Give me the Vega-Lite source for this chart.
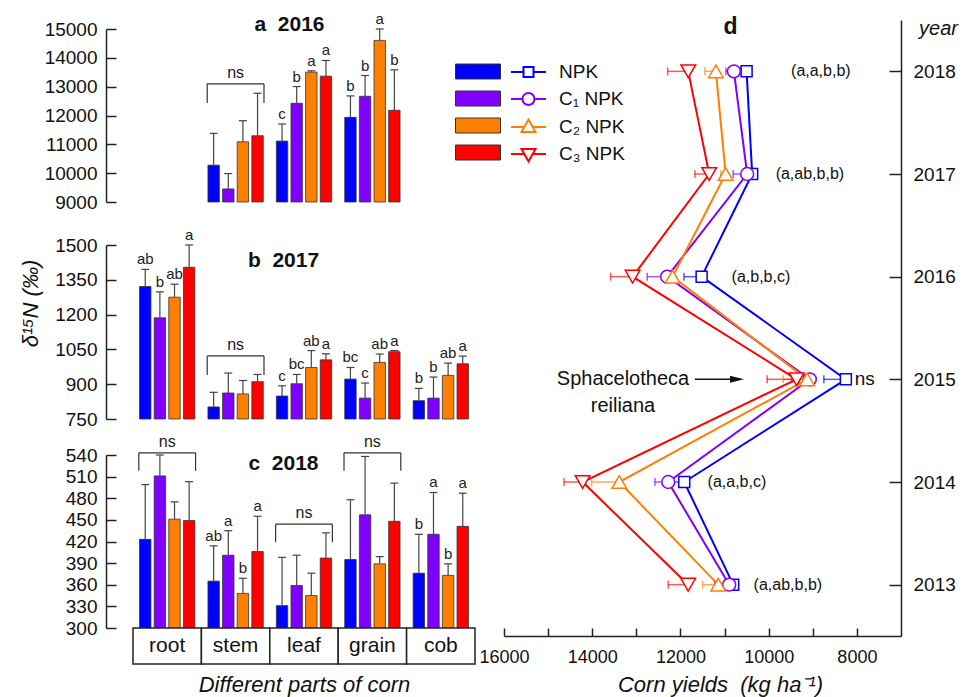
{
"$schema": "https://vega.github.io/schema/vega-lite/v6.json",
"background": "white",
"padding": {"left": 19, "top": 12, "right": 10, "bottom": 5},
"bounds": "flush",
"spacing": 371,
"resolve": {"scale": {"x": "independent", "y": "independent"}},
"datasets": {
"a": [
{"part":"stem","series":"NPK","v":10277,"hi":11379,"sig":""},
{"part":"stem","series":"C₁ NPK","v":9453,"hi":9986,"sig":""},
{"part":"stem","series":"C₂ NPK","v":11089,"hi":11820,"sig":""},
{"part":"stem","series":"C₃ NPK","v":11298,"hi":12771,"sig":""},
{"part":"leaf","series":"NPK","v":11112,"hi":11704,"sig":"c"},
{"part":"leaf","series":"C₁ NPK","v":12423,"hi":13004,"sig":"b"},
{"part":"leaf","series":"C₂ NPK","v":13503,"hi":13549,"sig":"a"},
{"part":"leaf","series":"C₃ NPK","v":13363,"hi":13909,"sig":"a"},
{"part":"grain","series":"NPK","v":11936,"hi":12679,"sig":"b"},
{"part":"grain","series":"C₁ NPK","v":12667,"hi":13387,"sig":"b"},
{"part":"grain","series":"C₂ NPK","v":14605,"hi":15000,"sig":"a"},
{"part":"grain","series":"C₃ NPK","v":12180,"hi":13584,"sig":"b"}
],
"b": [
{"part":"root","series":"NPK","v":1321,"hi":1395,"sig":"ab"},
{"part":"root","series":"C₁ NPK","v":1186,"hi":1298,"sig":"b"},
{"part":"root","series":"C₂ NPK","v":1275,"hi":1331,"sig":"ab"},
{"part":"root","series":"C₃ NPK","v":1404,"hi":1500,"sig":"a"},
{"part":"stem","series":"NPK","v":802,"hi":865,"sig":""},
{"part":"stem","series":"C₁ NPK","v":862,"hi":948,"sig":""},
{"part":"stem","series":"C₂ NPK","v":858,"hi":916,"sig":""},
{"part":"stem","series":"C₃ NPK","v":911,"hi":942,"sig":""},
{"part":"leaf","series":"NPK","v":849,"hi":893,"sig":"c"},
{"part":"leaf","series":"C₁ NPK","v":902,"hi":942,"sig":"bc"},
{"part":"leaf","series":"C₂ NPK","v":972,"hi":1045,"sig":"ab"},
{"part":"leaf","series":"C₃ NPK","v":1005,"hi":1031,"sig":"a"},
{"part":"grain","series":"NPK","v":922,"hi":972,"sig":"bc"},
{"part":"grain","series":"C₁ NPK","v":840,"hi":905,"sig":"c"},
{"part":"grain","series":"C₂ NPK","v":994,"hi":1030,"sig":"ab"},
{"part":"grain","series":"C₃ NPK","v":1040,"hi":1045,"sig":"a"},
{"part":"cob","series":"NPK","v":829,"hi":882,"sig":"b"},
{"part":"cob","series":"C₁ NPK","v":840,"hi":931,"sig":"b"},
{"part":"cob","series":"C₂ NPK","v":938,"hi":991,"sig":"ab"},
{"part":"cob","series":"C₃ NPK","v":988,"hi":1021,"sig":"a"}
],
"c": [
{"part":"root","series":"NPK","v":423,"hi":499,"sig":""},
{"part":"root","series":"C₁ NPK","v":511,"hi":540,"sig":""},
{"part":"root","series":"C₂ NPK","v":451,"hi":475,"sig":""},
{"part":"root","series":"C₃ NPK","v":449,"hi":503,"sig":""},
{"part":"stem","series":"NPK","v":365,"hi":414,"sig":"ab"},
{"part":"stem","series":"C₁ NPK","v":401,"hi":435,"sig":"a"},
{"part":"stem","series":"C₂ NPK","v":348,"hi":369,"sig":"b"},
{"part":"stem","series":"C₃ NPK","v":406,"hi":455,"sig":"a"},
{"part":"leaf","series":"NPK","v":331,"hi":398,"sig":""},
{"part":"leaf","series":"C₁ NPK","v":359,"hi":401,"sig":""},
{"part":"leaf","series":"C₂ NPK","v":345,"hi":376,"sig":""},
{"part":"leaf","series":"C₃ NPK","v":397,"hi":432,"sig":""},
{"part":"grain","series":"NPK","v":395,"hi":478,"sig":""},
{"part":"grain","series":"C₁ NPK","v":457,"hi":538,"sig":""},
{"part":"grain","series":"C₂ NPK","v":389,"hi":399,"sig":""},
{"part":"grain","series":"C₃ NPK","v":448,"hi":501,"sig":""},
{"part":"cob","series":"NPK","v":376,"hi":430,"sig":"b"},
{"part":"cob","series":"C₁ NPK","v":430,"hi":488,"sig":"a"},
{"part":"cob","series":"C₂ NPK","v":373,"hi":389,"sig":"b"},
{"part":"cob","series":"C₃ NPK","v":441,"hi":487,"sig":"a"}
],
"ba": [{"part":"stem","top":13100,"bot":12430}],
"bb": [{"part":"stem","top":1022,"bot":940}],
"bc": [{"part":"root","top":543,"bot":518},{"part":"leaf","top":444,"bot":419},{"part":"grain","top":543,"bot":518}],
"parts": [{"part":"root"},{"part":"stem"},{"part":"leaf"},{"part":"grain"},{"part":"cob"}],
"d": [
{"series":"NPK","year":2018,"yield":10500,"hi":10650},
{"series":"NPK","year":2017,"yield":10374,"hi":10430},
{"series":"NPK","year":2016,"yield":11520,"hi":11921},
{"series":"NPK","year":2015,"yield":8250,"hi":8749},
{"series":"NPK","year":2014,"yield":11914,"hi":12163},
{"series":"NPK","year":2013,"yield":10804,"hi":10870},
{"series":"C₁ NPK","year":2018,"yield":10788,"hi":10969},
{"series":"C₁ NPK","year":2017,"yield":10487,"hi":10804},
{"series":"C₁ NPK","year":2016,"yield":12300,"hi":12753},
{"series":"C₁ NPK","year":2015,"yield":9066,"hi":9480},
{"series":"C₁ NPK","year":2014,"yield":12277,"hi":12578},
{"series":"C₁ NPK","year":2013,"yield":10894,"hi":11219},
{"series":"C₂ NPK","year":2018,"yield":11196,"hi":11446},
{"series":"C₂ NPK","year":2017,"yield":10976,"hi":11083},
{"series":"C₂ NPK","year":2016,"yield":12178,"hi":12427},
{"series":"C₂ NPK","year":2015,"yield":9127,"hi":9671},
{"series":"C₂ NPK","year":2014,"yield":13387,"hi":14013},
{"series":"C₂ NPK","year":2013,"yield":11144,"hi":11497},
{"series":"C₃ NPK","year":2018,"yield":11823,"hi":12290},
{"series":"C₃ NPK","year":2017,"yield":11348,"hi":11672},
{"series":"C₃ NPK","year":2016,"yield":13084,"hi":13582},
{"series":"C₃ NPK","year":2015,"yield":9367,"hi":10034},
{"series":"C₃ NPK","year":2014,"yield":14217,"hi":14640},
{"series":"C₃ NPK","year":2013,"yield":11824,"hi":12277}
],
"dnotes": [
{"year":2018,"pos":8817,"label":"(a,a,b,b)"},
{"year":2017,"pos":9066,"label":"(a,ab,b,b)"},
{"year":2016,"pos":10176,"label":"(a,b,b,c)"},
{"year":2015,"pos":7820,"label":"ns"},
{"year":2014,"pos":10720,"label":"(a,a,b,c)"},
{"year":2013,"pos":9565,"label":"(a,ab,b,b)"}
],
"dsp": [{"year":2015,"pos":13303,"label":"Sphacelotheca\nreiliana"}],
"arrow": [{"year":2015,"from":11672,"to":10718}]
},
"hconcat": [
{
"bounds": "flush",
"spacing": 8,
"resolve": {"scale": {"x": "independent", "y": "independent"}},
"vconcat": [
{"width": 342, "height": 1, "data": {"values": []}, "mark": "point", "encoding": {}},
{
"bounds": "flush",
"spacing": 43,
"resolve": {"scale": {"x": "independent", "y": "independent"}},
"vconcat": [
{
"width": 342, "height": 173,
"layer": [
{"data": {"name": "a"}, "mark": {"type": "bar", "stroke": "#333", "strokeWidth": 0.8},
 "encoding": {
  "x": {"field": "part", "type": "nominal", "scale": {"domain": ["root","stem","leaf","grain","cob"], "paddingInner": 0.17, "paddingOuter": 0.085},
        "axis": {"orient": "top", "domain": false, "ticks": false, "labels": false, "grid": false, "title": "a\u00a0\u00a02016", "titleX": 156, "titleY": 1, "titleAlign": "center", "titleBaseline": "alphabetic", "titleAngle": 0, "titleFontSize": 21, "titleFontWeight": "bold"}},
  "xOffset": {"field": "series", "type": "nominal", "scale": {"domain": ["NPK","C₁ NPK","C₂ NPK","C₃ NPK"], "paddingInner": 0.22, "paddingOuter": 0.05}},
  "y": {"field": "v", "type": "quantitative", "scale": {"domain": [9000, 15000], "nice": false, "zero": false},
        "axis": {"values": [9000,10000,11000,12000,13000,14000,15000], "tickCount": 30, "format": "d", "labelOverlap": false, "labelFlush": false, "offset": 27, "tickSize": -10, "labelPadding": 19, "labelFontSize": 19, "title": null}},
  "y2": {"datum": 9000},
  "fill": {"field": "series", "type": "nominal", "scale": {"domain": ["NPK","C₁ NPK","C₂ NPK","C₃ NPK"], "range": ["#0000ff","#8000ff","#ff8000","#ff0000"]},
           "legend": {"orient": "none", "legendX": 334.5, "legendY": 41, "title": null, "labelExpr": "''", "symbolType": "M-2.25,-0.75H2.25V0.75H-2.25Z", "symbolSize": 400, "rowPadding": 6, "labelFontSize": 19, "symbolStrokeColor": "#333", "symbolStrokeWidth": 1, "symbolOpacity": 1}}
 }},
{"data": {"name": "a"}, "mark": {"type": "rule", "stroke": "#444", "strokeWidth": 1.2},
 "encoding": {"x": {"field": "part", "type": "nominal"}, "xOffset": {"field": "series", "type": "nominal"}, "y": {"field": "v", "type": "quantitative"}, "y2": {"field": "hi"}}},
{"data": {"name": "a"}, "mark": {"type": "point", "shape": "M-1,0H1", "size": 64, "stroke": "#444", "strokeWidth": 1.2, "opacity": 1},
 "encoding": {"x": {"field": "part", "type": "nominal"}, "xOffset": {"field": "series", "type": "nominal"}, "y": {"field": "hi", "type": "quantitative"}}},
{"data": {"name": "a"}, "mark": {"type": "text", "fontSize": 15, "dy": -5, "baseline": "alphabetic", "color": "#222"},
 "encoding": {"x": {"field": "part", "type": "nominal"}, "xOffset": {"field": "series", "type": "nominal"}, "y": {"field": "hi", "type": "quantitative"}, "text": {"field": "sig"}}},
{"data": {"name": "ba"}, "mark": {"type": "rule", "stroke": "#333", "strokeWidth": 1.2},
 "encoding": {"x": {"field": "part", "type": "nominal", "bandPosition": 0}, "x2": {"field": "part", "bandPosition": 1}, "y": {"field": "top", "type": "quantitative"}}},
{"data": {"name": "ba"}, "mark": {"type": "rule", "stroke": "#333", "strokeWidth": 1.2},
 "encoding": {"x": {"field": "part", "type": "nominal", "bandPosition": 0}, "y": {"field": "top", "type": "quantitative"}, "y2": {"field": "bot"}}},
{"data": {"name": "ba"}, "mark": {"type": "rule", "stroke": "#333", "strokeWidth": 1.2},
 "encoding": {"x": {"field": "part", "type": "nominal", "bandPosition": 1}, "y": {"field": "top", "type": "quantitative"}, "y2": {"field": "bot"}}},
{"data": {"name": "ba"}, "mark": {"type": "text", "fontSize": 16, "dy": -6, "baseline": "alphabetic", "color": "#222"},
 "encoding": {"x": {"field": "part", "type": "nominal"}, "y": {"field": "top", "type": "quantitative"}, "text": {"value": "ns"}}}
]
},
{
"bounds": "flush",
"spacing": 36,
"resolve": {"scale": {"x": "independent", "y": "independent"}},
"vconcat": [
{
"width": 342, "height": 174,
"layer": [
{"data": {"name": "b"}, "mark": {"type": "bar", "stroke": "#333", "strokeWidth": 0.8},
 "encoding": {
  "x": {"field": "part", "type": "nominal", "scale": {"domain": ["root","stem","leaf","grain","cob"], "paddingInner": 0.17, "paddingOuter": 0.085},
        "axis": {"orient": "top", "domain": false, "ticks": false, "labels": false, "grid": false, "title": "b\u00a0\u00a02017", "titleX": 150, "titleY": 21, "titleAlign": "center", "titleBaseline": "alphabetic", "titleAngle": 0, "titleFontSize": 21, "titleFontWeight": "bold"}},
  "xOffset": {"field": "series", "type": "nominal", "scale": {"domain": ["NPK","C₁ NPK","C₂ NPK","C₃ NPK"], "paddingInner": 0.22, "paddingOuter": 0.05}},
  "y": {"field": "v", "type": "quantitative", "scale": {"domain": [750, 1500], "nice": false, "zero": false},
        "axis": {"values": [750,900,1050,1200,1350,1500], "tickCount": 30, "format": "d", "labelOverlap": false, "labelFlush": false, "offset": 27, "tickSize": -10, "labelPadding": 19, "labelFontSize": 19,
                 "title": "δ¹⁵N (‰)", "titleFontStyle": "italic", "titleFontSize": 22, "titleFontWeight": "normal", "titleX": -76, "titleY": 58, "titleAngle": 270, "titleAlign": "center", "titleBaseline": "middle"}},
  "y2": {"datum": 750},
  "fill": {"field": "series", "type": "nominal", "scale": {"domain": ["NPK","C₁ NPK","C₂ NPK","C₃ NPK"], "range": ["#0000ff","#8000ff","#ff8000","#ff0000"]}}
 }},
{"data": {"name": "b"}, "mark": {"type": "rule", "stroke": "#444", "strokeWidth": 1.2},
 "encoding": {"x": {"field": "part", "type": "nominal"}, "xOffset": {"field": "series", "type": "nominal"}, "y": {"field": "v", "type": "quantitative"}, "y2": {"field": "hi"}}},
{"data": {"name": "b"}, "mark": {"type": "point", "shape": "M-1,0H1", "size": 64, "stroke": "#444", "strokeWidth": 1.2, "opacity": 1},
 "encoding": {"x": {"field": "part", "type": "nominal"}, "xOffset": {"field": "series", "type": "nominal"}, "y": {"field": "hi", "type": "quantitative"}}},
{"data": {"name": "b"}, "mark": {"type": "text", "fontSize": 15, "dy": -5, "baseline": "alphabetic", "color": "#222"},
 "encoding": {"x": {"field": "part", "type": "nominal"}, "xOffset": {"field": "series", "type": "nominal"}, "y": {"field": "hi", "type": "quantitative"}, "text": {"field": "sig"}}},
{"data": {"name": "bb"}, "mark": {"type": "rule", "stroke": "#333", "strokeWidth": 1.2},
 "encoding": {"x": {"field": "part", "type": "nominal", "bandPosition": 0}, "x2": {"field": "part", "bandPosition": 1}, "y": {"field": "top", "type": "quantitative"}}},
{"data": {"name": "bb"}, "mark": {"type": "rule", "stroke": "#333", "strokeWidth": 1.2},
 "encoding": {"x": {"field": "part", "type": "nominal", "bandPosition": 0}, "y": {"field": "top", "type": "quantitative"}, "y2": {"field": "bot"}}},
{"data": {"name": "bb"}, "mark": {"type": "rule", "stroke": "#333", "strokeWidth": 1.2},
 "encoding": {"x": {"field": "part", "type": "nominal", "bandPosition": 1}, "y": {"field": "top", "type": "quantitative"}, "y2": {"field": "bot"}}},
{"data": {"name": "bb"}, "mark": {"type": "text", "fontSize": 16, "dy": -6, "baseline": "alphabetic", "color": "#222"},
 "encoding": {"x": {"field": "part", "type": "nominal"}, "y": {"field": "top", "type": "quantitative"}, "text": {"value": "ns"}}}
]
},
{
"bounds": "flush",
"spacing": 0,
"resolve": {"scale": {"x": "independent", "y": "independent"}},
"vconcat": [
{
"width": 342, "height": 173,
"layer": [
{"data": {"name": "c"}, "mark": {"type": "bar", "stroke": "#333", "strokeWidth": 0.8},
 "encoding": {
  "x": {"field": "part", "type": "nominal", "scale": {"domain": ["root","stem","leaf","grain","cob"], "paddingInner": 0.17, "paddingOuter": 0.085},
        "axis": {"orient": "top", "domain": false, "ticks": false, "labels": false, "grid": false, "title": "c\u00a0\u00a02018", "titleX": 150, "titleY": 14, "titleAlign": "center", "titleBaseline": "alphabetic", "titleAngle": 0, "titleFontSize": 21, "titleFontWeight": "bold"}},
  "xOffset": {"field": "series", "type": "nominal", "scale": {"domain": ["NPK","C₁ NPK","C₂ NPK","C₃ NPK"], "paddingInner": 0.22, "paddingOuter": 0.05}},
  "y": {"field": "v", "type": "quantitative", "scale": {"domain": [300, 540], "nice": false, "zero": false},
        "axis": {"values": [300,330,360,390,420,450,480,510,540], "tickCount": 30, "format": "d", "labelOverlap": false, "labelFlush": false, "offset": 27, "tickSize": -10, "labelPadding": 19, "labelFontSize": 19, "title": null}},
  "y2": {"datum": 300},
  "fill": {"field": "series", "type": "nominal", "scale": {"domain": ["NPK","C₁ NPK","C₂ NPK","C₃ NPK"], "range": ["#0000ff","#8000ff","#ff8000","#ff0000"]}}
 }},
{"data": {"name": "c"}, "mark": {"type": "rule", "stroke": "#444", "strokeWidth": 1.2},
 "encoding": {"x": {"field": "part", "type": "nominal"}, "xOffset": {"field": "series", "type": "nominal"}, "y": {"field": "v", "type": "quantitative"}, "y2": {"field": "hi"}}},
{"data": {"name": "c"}, "mark": {"type": "point", "shape": "M-1,0H1", "size": 64, "stroke": "#444", "strokeWidth": 1.2, "opacity": 1},
 "encoding": {"x": {"field": "part", "type": "nominal"}, "xOffset": {"field": "series", "type": "nominal"}, "y": {"field": "hi", "type": "quantitative"}}},
{"data": {"name": "c"}, "mark": {"type": "text", "fontSize": 15, "dy": -5, "baseline": "alphabetic", "color": "#222"},
 "encoding": {"x": {"field": "part", "type": "nominal"}, "xOffset": {"field": "series", "type": "nominal"}, "y": {"field": "hi", "type": "quantitative"}, "text": {"field": "sig"}}},
{"data": {"name": "bc"}, "mark": {"type": "rule", "stroke": "#333", "strokeWidth": 1.2},
 "encoding": {"x": {"field": "part", "type": "nominal", "bandPosition": 0}, "x2": {"field": "part", "bandPosition": 1}, "y": {"field": "top", "type": "quantitative"}}},
{"data": {"name": "bc"}, "mark": {"type": "rule", "stroke": "#333", "strokeWidth": 1.2},
 "encoding": {"x": {"field": "part", "type": "nominal", "bandPosition": 0}, "y": {"field": "top", "type": "quantitative"}, "y2": {"field": "bot"}}},
{"data": {"name": "bc"}, "mark": {"type": "rule", "stroke": "#333", "strokeWidth": 1.2},
 "encoding": {"x": {"field": "part", "type": "nominal", "bandPosition": 1}, "y": {"field": "top", "type": "quantitative"}, "y2": {"field": "bot"}}},
{"data": {"name": "bc"}, "mark": {"type": "text", "fontSize": 16, "dy": -6, "baseline": "alphabetic", "color": "#222"},
 "encoding": {"x": {"field": "part", "type": "nominal"}, "y": {"field": "top", "type": "quantitative"}, "text": {"value": "ns"}}}
]
},
{
"width": 342, "height": 36,
"data": {"name": "parts"},
"layer": [
{"mark": {"type": "rect", "fill": "white", "stroke": "#222", "strokeWidth": 1.5},
 "encoding": {"x": {"field": "part", "type": "nominal", "scale": {"domain": ["root","stem","leaf","grain","cob"], "paddingInner": 0, "paddingOuter": 0},
   "axis": {"labels": false, "ticks": false, "domain": false, "title": "Different parts of corn", "titleFontStyle": "italic", "titleFontSize": 22, "titleFontWeight": "normal", "titleY": 20, "titleBaseline": "middle"}}}},
{"mark": {"type": "text", "fontSize": 21, "color": "#111"},
 "encoding": {"x": {"field": "part", "type": "nominal"}, "text": {"field": "part"}}}
]
}
]
}
]
}
]
}
]
},
{
"width": 397, "height": 616,
"resolve": {"axis": {"y": "independent"}},
"layer": [
{"data": {"name": "d"}, "mark": {"type": "line", "strokeWidth": 2},
 "encoding": {
  "x": {"field": "yield", "type": "quantitative", "scale": {"domain": [7000, 16000], "reverse": true, "nice": false, "zero": false},
        "axis": {"values": [8000,9000,10000,11000,12000,13000,14000,15000,16000], "tickCount": 30, "labelExpr": "datum.value % 2000 === 0 ? format(datum.value, 'd') : ''", "labelOverlap": false, "labelFlush": false, "tickSize": -8, "labelPadding": 20, "labelFontSize": 18,
                 "title": "Corn yields\u00a0 (kg ha⁻¹)", "titleFontStyle": "italic", "titleFontSize": 22, "titleFontWeight": "normal", "titleX": 216, "titleY": 48, "titleBaseline": "middle", "titleAlign": "center"}},
  "y": {"field": "year", "type": "quantitative", "scale": {"domain": [2012.5, 2018.5], "nice": false, "zero": false},
        "axis": {"orient": "right", "values": [2013,2014,2015,2016,2017,2018], "tickCount": 30, "format": "d", "labelOverlap": false, "labelFlush": false, "tickSize": -12, "labelPadding": 24, "labelFontSize": 19,
                 "title": "year", "titleAngle": 0, "titleX": 37, "titleY": 8, "titleAlign": "center", "titleBaseline": "middle", "titleFontStyle": "italic", "titleFontSize": 20, "titleFontWeight": "normal"}},
  "color": {"field": "series", "type": "nominal", "sort": null, "scale": {"range": ["#0000ff","#8000ff","#ff8000","#ff0000"]}, "legend": null},
  "order": {"field": "year", "type": "quantitative"}
 }},
{"data": {"name": "d"}, "mark": {"type": "rule", "strokeWidth": 1.5, "opacity": 0.65},
 "encoding": {"x": {"field": "yield", "type": "quantitative"}, "x2": {"field": "hi"}, "y": {"field": "year", "type": "quantitative", "axis": null}, "color": {"field": "series", "type": "nominal", "sort": null, "legend": null}}},
{"data": {"name": "d"}, "mark": {"type": "point", "shape": "M0,-1V1", "size": 64, "strokeWidth": 1.5, "opacity": 0.65, "filled": false},
 "encoding": {"x": {"field": "hi", "type": "quantitative"}, "y": {"field": "year", "type": "quantitative", "axis": null}, "color": {"field": "series", "type": "nominal", "sort": null, "legend": null}}},
{"data": {"name": "d"}, "transform": [{"filter": "datum.series === 'NPK'"}], "mark": {"type": "point", "shape": "square", "filled": true, "fill": "white", "stroke": "#0000ff", "size": 120, "strokeWidth": 1.5, "opacity": 1},
 "encoding": {"x": {"field": "yield", "type": "quantitative"}, "y": {"field": "year", "type": "quantitative", "axis": null}}},
{"data": {"name": "d"}, "transform": [{"filter": "datum.series === 'C₁ NPK'"}], "mark": {"type": "point", "shape": "circle", "filled": true, "fill": "white", "stroke": "#8000ff", "size": 165, "strokeWidth": 1.5, "opacity": 1},
 "encoding": {"x": {"field": "yield", "type": "quantitative"}, "y": {"field": "year", "type": "quantitative", "axis": null}}},
{"data": {"name": "d"}, "transform": [{"filter": "datum.series === 'C₂ NPK'"}], "mark": {"type": "point", "shape": "triangle-up", "filled": true, "fill": "white", "stroke": "#ff8000", "size": 215, "strokeWidth": 1.5, "opacity": 1},
 "encoding": {"x": {"field": "yield", "type": "quantitative"}, "y": {"field": "year", "type": "quantitative", "axis": null}}},
{"data": {"name": "d"}, "transform": [{"filter": "datum.series === 'C₃ NPK'"}], "mark": {"type": "point", "shape": "triangle-down", "filled": true, "fill": "white", "stroke": "#ff0000", "size": 215, "strokeWidth": 1.5, "opacity": 1},
 "encoding": {"x": {"field": "yield", "type": "quantitative"}, "y": {"field": "year", "type": "quantitative", "axis": null}}},
{"data": {"name": "d"}, "mark": {"type": "point", "filled": true, "fill": "white", "strokeWidth": 2, "opacity": 0},
 "encoding": {"x": {"field": "yield", "type": "quantitative"},
  "y": {"field": "year", "type": "quantitative", "axis": {"orient": "left", "domain": false, "ticks": false, "labels": false, "grid": false, "title": "d", "titleAngle": 0, "titleX": 226, "titleY": 13, "titleAlign": "center", "titleBaseline": "alphabetic", "titleFontSize": 23, "titleFontWeight": "bold"}},
  "stroke": {"field": "series", "type": "nominal", "sort": null, "scale": {"range": ["#0000ff","#8000ff","#ff8000","#ff0000"]},
    "legend": {"orient": "none", "legendX": 384.5, "legendY": 41, "title": null, "labelFontSize": 19, "labelOffset": 19.5, "symbolSize": 400, "rowPadding": 6, "symbolStrokeWidth": 2, "symbolFillColor": "white", "symbolOpacity": 1}},
  "shape": {"field": "series", "type": "nominal", "sort": null,
    "scale": {"range": ["M-1.75,0H-0.5M0.5,0H1.75M-0.5,-0.5H0.5V0.5H-0.5Z", "M-1.75,0H-0.6M0.6,0H1.75M-0.6,0A0.6,0.6,0,1,1,0.6,0A0.6,0.6,0,1,1,-0.6,0Z", "M-1.75,0H-0.42M0.42,0H1.75M0,-0.75L0.7,0.5H-0.7Z", "M-1.75,0H-0.42M0.42,0H1.75M0,0.75L0.7,-0.5H-0.7Z"]},
    "legend": {"orient": "none", "legendX": 384.5, "legendY": 41, "title": null, "labelFontSize": 19, "labelOffset": 19.5, "symbolSize": 400, "rowPadding": 6, "symbolStrokeWidth": 2, "symbolFillColor": "white", "symbolOpacity": 1}}
 }},
{"data": {"name": "dnotes"}, "mark": {"type": "text", "baseline": "middle", "color": "#111"},
 "encoding": {"x": {"field": "pos", "type": "quantitative"}, "y": {"field": "year", "type": "quantitative", "axis": null}, "text": {"field": "label"},
  "size": {"condition": {"test": "datum.label === 'ns'", "value": 19}, "value": 16}}},
{"data": {"name": "dsp"}, "mark": {"type": "text", "fontSize": 20, "lineBreak": "\n", "lineHeight": 27, "baseline": "middle", "color": "#111"},
 "encoding": {"x": {"field": "pos", "type": "quantitative"}, "y": {"field": "year", "type": "quantitative", "axis": null}, "text": {"field": "label"}}},
{"data": {"name": "arrow"}, "mark": {"type": "rule", "strokeWidth": 1.5, "color": "#111"},
 "encoding": {"x": {"field": "from", "type": "quantitative"}, "x2": {"field": "to"}, "y": {"field": "year", "type": "quantitative", "axis": null}}},
{"data": {"name": "arrow"}, "mark": {"type": "point", "shape": "M-1,-0.5L1,0L-1,0.5Z", "filled": true, "size": 196, "color": "#111", "opacity": 1},
 "encoding": {"x": {"field": "to", "type": "quantitative"}, "y": {"field": "year", "type": "quantitative", "axis": null}}}
]
}
],
"config": {
 "view": {"stroke": null},
 "font": "Liberation Sans",
 "axis": {"labelFont": "Liberation Sans", "titleFont": "Liberation Sans", "labelColor": "#111", "titleColor": "#111", "labelFlush": false, "grid": false, "domainColor": "#222", "tickColor": "#222", "domainWidth": 1.5, "tickWidth": 1.5},
 "legend": {"labelFont": "Liberation Sans", "labelColor": "#111"},
 "title": {"font": "Liberation Sans", "color": "#111"},
 "text": {"font": "Liberation Sans"}
}
}
